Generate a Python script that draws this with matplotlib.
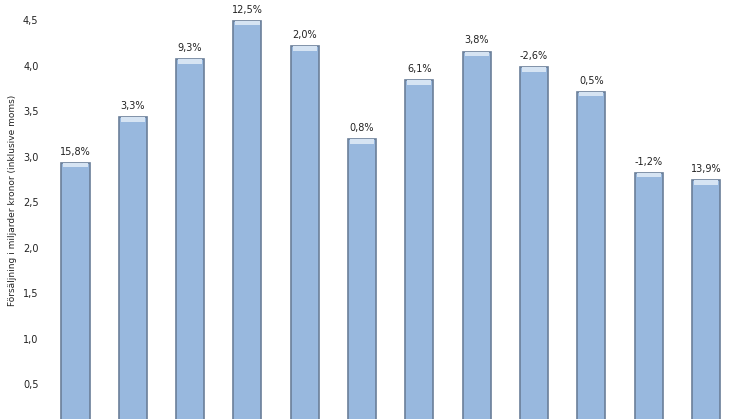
import matplotlib
matplotlib.use("Agg")
import matplotlib.pyplot as plt
import numpy as np

# försäljning per period, miljarder kronor
values = [2.93, 3.43, 4.07, 4.49, 4.21, 3.19, 3.84, 4.15, 3.98, 3.71, 2.82, 2.74]
# förändring mot föregående år
changes = ["15,8%", "3,3%", "9,3%", "12,5%", "2,0%", "0,8%",
           "6,1%", "3,8%", "-2,6%", "0,5%", "-1,2%", "13,9%"]
yticks = [0.5, 1.0, 1.5, 2.0, 2.5, 3.0, 3.5, 4.0, 4.5]
ylabel = "Försäljning i miljarder kronor (inklusive moms)"

plt.rcParams['font.family'] = ['Liberation Sans Narrow', 'DejaVu Sans']

fig = plt.figure(figsize=(7.46, 4.19), dpi=100)
# the original is cropped at the bottom, so the axes reach below the figure
ax = fig.add_axes([46.8 / 746, -10.5 / 419, 687.9 / 746, 429.5 / 419])

x = np.arange(len(values))
w = 0.49
ax.bar(x, values, width=w, color='#98b8de', edgecolor='#6b7f99', linewidth=1.2, zorder=2)
# light bevel on top of each bar
cap = 0.05
ax.bar(x, [cap] * len(values), bottom=[v - cap for v in values], width=w * 0.86,
       color='#d6e4f3', edgecolor='none', zorder=3)

for xi, v, t in zip(x, values, changes):
    ax.text(xi, v + 0.07, t, ha='center', va='bottom', fontsize=7, color='#222222')

ax.set_xlim(-0.5, len(values) - 0.5)
ax.set_ylim(0, 4.72)
ax.set_yticks(yticks)
ax.set_yticklabels([f"{t:.1f}".replace('.', ',') for t in yticks], fontsize=7, color='#222222')
ax.set_xticks([])
ax.tick_params(axis='y', length=0, pad=6)
for s in ax.spines.values():
    s.set_visible(False)

fig.text(13 / 746, 1 - 200 / 419, ylabel, rotation=90, ha='center', va='center',
         fontsize=6.5, color='#222222')

fig.savefig("out.png", dpi=100, facecolor='white')
